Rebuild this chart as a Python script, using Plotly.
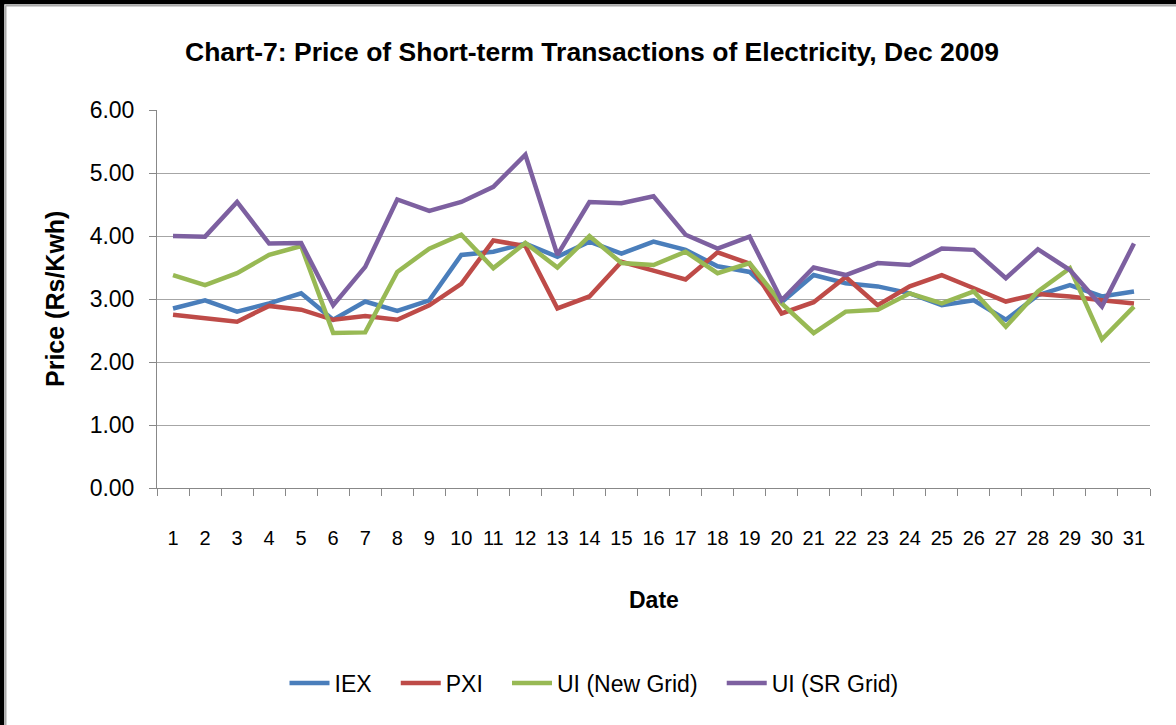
import plotly.graph_objects as go

dates = [str(d) for d in range(1, 32)]
iex = [2.85, 2.98, 2.80, 2.93, 3.09, 2.67, 2.96, 2.81, 2.98, 3.70, 3.75, 3.88, 3.67, 3.91, 3.72, 3.91,
       3.78, 3.52, 3.43, 2.95, 3.38, 3.25, 3.20, 3.09, 2.90, 2.98, 2.67, 3.06, 3.22, 3.04, 3.12]
pxi = [2.75, 2.70, 2.64, 2.89, 2.83, 2.67, 2.73, 2.67, 2.90, 3.24, 3.93, 3.84, 2.85, 3.04, 3.59, 3.45,
       3.31, 3.74, 3.56, 2.77, 2.95, 3.35, 2.90, 3.20, 3.38, 3.17, 2.96, 3.08, 3.04, 2.98, 2.93]
ui_new = [3.38, 3.22, 3.41, 3.70, 3.84, 2.46, 2.47, 3.43, 3.80, 4.02, 3.49, 3.89, 3.50, 4.00, 3.57, 3.54,
          3.75, 3.41, 3.57, 2.93, 2.46, 2.80, 2.83, 3.09, 2.93, 3.12, 2.56, 3.12, 3.49, 2.36, 2.88]
ui_sr = [4.00, 3.99, 4.54, 3.88, 3.89, 2.90, 3.51, 4.58, 4.40, 4.54, 4.78, 5.29, 3.70, 4.54, 4.52, 4.63,
         4.02, 3.80, 3.99, 2.98, 3.50, 3.38, 3.57, 3.54, 3.80, 3.78, 3.33, 3.79, 3.46, 2.88, 3.88]
y_ticks = [0, 1, 2, 3, 4, 5, 6]

series = [
    ("IEX", iex, "#4A7EBB"),
    ("PXI", pxi, "#BE4B48"),
    ("UI (New Grid)", ui_new, "#98B954"),
    ("UI (SR Grid)", ui_sr, "#7D60A0"),
]

FONT = "Liberation Sans, Arial, sans-serif"
PAD = "\u00a0\u00a0\u00a0"

fig = go.Figure()
for i, (name, vals, color) in enumerate(series):
    label = name + (PAD if i < len(series) - 1 else "")
    fig.add_trace(go.Scatter(x=dates, y=vals, name=label, mode="lines",
                             line=dict(color=color, width=4.5)))

# pixel -> paper helpers (plot area: x 157..1150, y 110..488)
L, R, T, B = 157, 1150, 110, 488
W, H = R - L, B - T
def px(x):
    return (x - L) / W
def py(y):
    return (B - y) / H

fig.update_layout(
    width=1176, height=725,
    margin=dict(l=L, r=1176 - R, t=T, b=725 - B),
    paper_bgcolor="white", plot_bgcolor="white",
    font=dict(family=FONT, color="#000000"),
    title=dict(text="Chart-7: Price of Short-term Transactions of Electricity, Dec 2009",
               font=dict(family=FONT, size=26.5, color="#000000", weight="bold"),
               x=592 / 1176, xanchor="center", xref="container",
               y=1 - 52 / 725, yanchor="middle", yref="container"),
    xaxis=dict(type="category", range=[-0.5, 30.5], tickson="boundaries",
               ticks="outside", ticklen=7, tickcolor="#888888", tickwidth=1,
               showline=True, linecolor="#888888", linewidth=1, tickangle=0,
               showgrid=False, tickfont=dict(family=FONT, size=20, color="#000000"),
               ticklabelstandoff=32),
    yaxis=dict(range=[0, 6], tickvals=y_ticks, tickformat=".2f",
               ticks="outside", ticklen=7, tickcolor="#888888",
               showline=True, linecolor="#888888", linewidth=1,
               showgrid=True, gridcolor="#A6A6A6", gridwidth=1.3, zeroline=False,
               tickfont=dict(family=FONT, size=23, color="#000000"),
               ticklabelstandoff=10),
    legend=dict(orientation="h", x=px(594), xanchor="center", y=py(683), yanchor="middle",
                itemwidth=40,
                font=dict(family=FONT, size=23, color="#000000"), bgcolor="rgba(0,0,0,0)"),
    annotations=[
        dict(text="<b>Date</b>", x=px(654), y=py(600), xref="paper", yref="paper",
             showarrow=False, font=dict(family=FONT, size=23, color="#000000"),
             xanchor="center", yanchor="middle"),
        dict(text="<b>Price (Rs/Kwh)</b>", x=px(55), y=py(299), xref="paper", yref="paper",
             showarrow=False, textangle=-90, font=dict(family=FONT, size=25, color="#000000"),
             xanchor="center", yanchor="middle"),
    ],
    shapes=[
        dict(type="line", xref="paper", yref="paper", x0=px(2), x1=px(2), y0=py(0), y1=py(725),
             line=dict(color="#000000", width=4.5)),
        dict(type="line", xref="paper", yref="paper", x0=px(0), x1=px(1176), y0=py(2), y1=py(2),
             line=dict(color="#000000", width=4.5)),
        dict(type="line", xref="paper", yref="paper", x0=px(5.5), x1=px(5.5), y0=py(5.5), y1=py(725),
             line=dict(color="#AAAAAA", width=2)),
        dict(type="line", xref="paper", yref="paper", x0=px(5.5), x1=px(1176), y0=py(5.5), y1=py(5.5),
             line=dict(color="#AAAAAA", width=2)),
    ],
)

fig.write_html("out.html", config={"displayModeBar": False},
               post_script="document.body.style.margin='0';document.body.style.overflow='hidden';")
